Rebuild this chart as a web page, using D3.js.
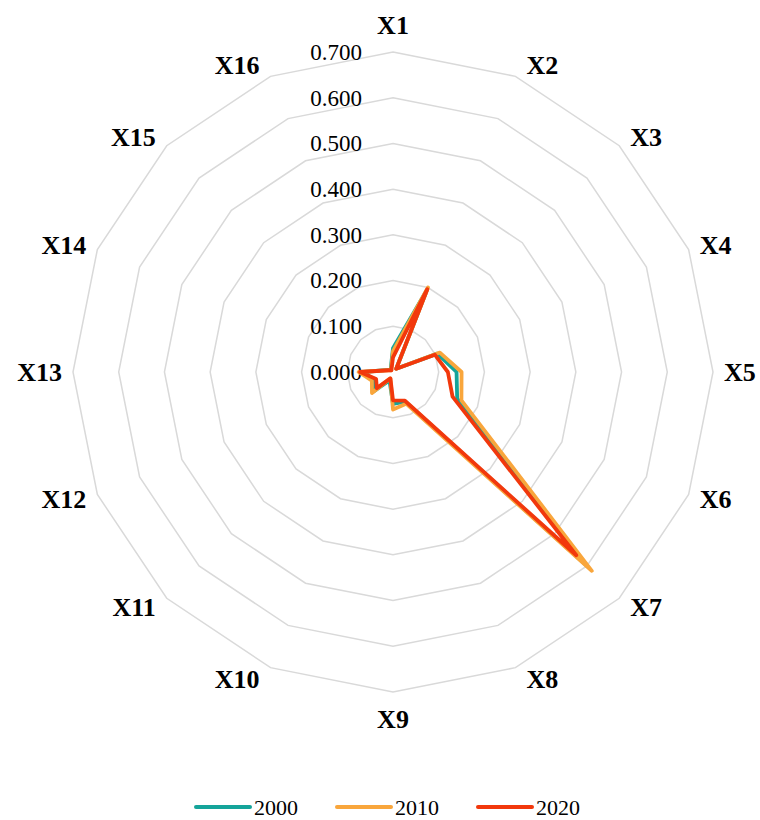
<!DOCTYPE html>
<html>
<head>
<meta charset="utf-8">
<script src="https://cdn.jsdelivr.net/npm/d3@7"></script>
<style>
  body { margin: 0; background: #fff; }
  svg { display: block; }
  .tick text { font-family: "Liberation Serif", "Times New Roman", serif; font-size: 23px; fill: #000; }
  .axisLabel { font-family: "Liberation Serif", "Times New Roman", serif; font-size: 26px; font-weight: bold; fill: #000; }
  .legend text { font-family: "Liberation Serif", "Times New Roman", serif; font-size: 22px; fill: #000; }
</style>
</head>
<body>
<script>
var axes = ["X1","X2","X3","X4","X5","X6","X7","X8","X9","X10","X11","X12","X13","X14","X15","X16"];
var years = ["2000", "2010", "2020"];
var colors = ["#15a49a", "#f9a63c", "#f2380c"];
var ticks = [0, 0.1, 0.2, 0.3, 0.4, 0.5, 0.6, 0.7];

var v2000 = [0.052, 0.195, 0.010, 0.105, 0.139, 0.152, 0.600, 0.070, 0.070, 0.020, 0.060, 0.045, 0.065, 0.012, 0.006, 0.012];
var v2010 = [0.045, 0.200, 0.010, 0.111, 0.150, 0.162, 0.615, 0.075, 0.082, 0.015, 0.065, 0.050, 0.075, 0.010, 0.005, 0.010];
var v2020 = [0.032, 0.196, 0.010, 0.099, 0.120, 0.141, 0.567, 0.068, 0.062, 0.015, 0.050, 0.040, 0.072, 0.010, 0.005, 0.008];
var series = [v2000, v2010, v2020];

var width = 760, height = 820;
var cx = 393, cy = 372;
var R = 320;

var r = d3.scaleLinear().domain([0, 0.7]).range([0, R]);
var angle = d3.scaleLinear().domain([0, axes.length]).range([0, 2 * Math.PI]);

var svg = d3.select("body").append("svg")
    .attr("width", width).attr("height", height);

var g = svg.append("g").attr("transform", "translate(" + cx + "," + cy + ")");

// grid rings
var ring = d3.lineRadial()
    .angle(function(d, i){ return angle(i); })
    .radius(function(d){ return r(d); })
    .curve(d3.curveLinearClosed);

g.selectAll(".ring")
  .data(ticks.slice(1))
  .enter().append("path")
    .attr("class", "ring")
    .attr("d", function(t){ return ring(axes.map(function(){ return t; })); })
    .attr("fill", "none")
    .attr("stroke", "#d9d9d9")
    .attr("stroke-width", 1.5);

// tick labels
var yAxis = d3.axisLeft(d3.scaleLinear().domain([0, 0.7]).range([0, -R]))
    .tickValues(ticks)
    .tickFormat(d3.format(".3f"))
    .tickSize(0)
    .tickPadding(31);

g.append("g").attr("class", "y axis").call(yAxis)
  .call(function(s){ s.select(".domain").remove(); });

// axis labels, placed just outside each outer vertex
var gap = 11;
g.selectAll(".axisLabel")
  .data(axes)
  .enter().append("text")
    .attr("class", "axisLabel")
    .each(function(d, i){
      var s = Math.sin(angle(i)), c = Math.cos(angle(i));
      var t = d3.select(this);
      if (Math.abs(s) < 0.01) {
        t.attr("x", 0)
         .attr("y", -c * (R + 27))
         .attr("text-anchor", "middle");
      } else {
        t.attr("x", R * s + (s > 0 ? gap : -gap))
         .attr("y", -c * (R + 12))
         .attr("text-anchor", s > 0 ? "start" : "end");
      }
    })
    .attr("dy", "0.35em")
    .text(function(d){ return d; });

// series
var line = d3.lineRadial()
    .angle(function(d, i){ return angle(i); })
    .radius(function(d){ return r(d); })
    .curve(d3.curveLinearClosed);

g.selectAll(".series")
  .data(series)
  .enter().append("path")
    .attr("class", "series")
    .attr("d", function(d){ return line(d); })
    .attr("fill", "none")
    .attr("stroke", function(d, i){ return colors[i]; })
    .attr("stroke-width", 3.8)
    .attr("stroke-linejoin", "round")
    .attr("stroke-linecap", "round");

// legend
var legend = svg.append("g").attr("class", "legend")
    .attr("transform", "translate(196, 807)");

var item = legend.selectAll("g")
  .data(years)
  .enter().append("g")
    .attr("transform", function(d, i){ return "translate(" + (i * 141) + ",0)"; });

item.append("line")
    .attr("x1", 0).attr("x2", 54)
    .attr("stroke", function(d, i){ return colors[i]; })
    .attr("stroke-width", 4)
    .attr("stroke-linecap", "round");

item.append("text")
    .attr("x", 58)
    .attr("dy", "0.35em")
    .text(function(d){ return d; });
</script>
</body>
</html>
